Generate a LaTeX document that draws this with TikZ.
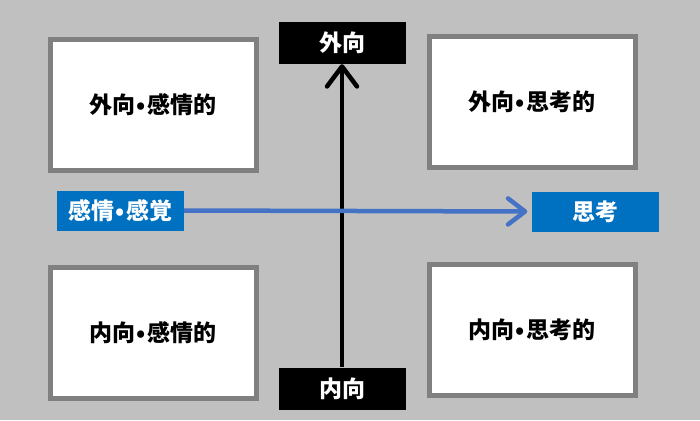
\documentclass[tikz,border=0pt]{standalone}
\usepackage{fontspec}
\newfontfamily\jp{Noto Sans CJK JP}
\usetikzlibrary{arrows.meta}
\definecolor{bggray}{HTML}{C0C0C0}
\definecolor{framegray}{HTML}{808080}
\definecolor{labelblue}{HTML}{0070C0}
\definecolor{arrowblue}{HTML}{4472C4}
\begin{document}
\begin{tikzpicture}[x=1pt,y=-1pt,
		quad/.style={draw=framegray,line width=5pt,fill=white,minimum width=206pt,minimum height=131pt,inner sep=0pt,font=\jp\bfseries\fontsize{23}{23}\selectfont},
		axis/.style={fill=black,text=white,minimum width=127pt,minimum height=42pt,inner sep=0pt,font=\jp\bfseries\fontsize{23}{23}\selectfont},
		side/.style={fill=labelblue,text=white,minimum width=127pt,minimum height=40pt,inner sep=0pt,font=\jp\bfseries\fontsize{23}{23}\selectfont}]
		\def\xl{153}
		\def\xr{532}
		\def\dt{\hspace{1.5pt}•\hspace{1.5pt}}
		\fill[bggray] (0,0) rectangle (700,420);
		\useasboundingbox (0,0) rectangle (700,420);
		% four quadrants
		\node[quad] (extfeel) at (\xl,105) {外向\dt 感情的};
		\node[quad] (extthink) at (\xr,102) {外向\dt 思考的};
		\node[quad] (intfeel) at (\xl,333) {内向\dt 感情的};
		\node[quad] (intthink) at (\xr,330) {内向\dt 思考的};
		% axis labels
		\node[axis] (extra) at (342,43) {外向};
		\node[axis] (intro) at (342,388.5) {内向};
		\node[side] (feel) at (120.5,210.5) {感情\dt 感覚};
		\node[side] (think) at (595,211.5) {思考};
		% arrows
		\draw[line width=4.5pt,-{Straight Barb[length=20pt,width=30pt,round]}] (intro.north) -- (extra.south);
		\draw[arrowblue,line width=4.5pt,-{Straight Barb[length=17pt,width=26pt,round]},shorten >=4pt] (feel.east) -- (think.west);
	\end{tikzpicture}
\end{document}
